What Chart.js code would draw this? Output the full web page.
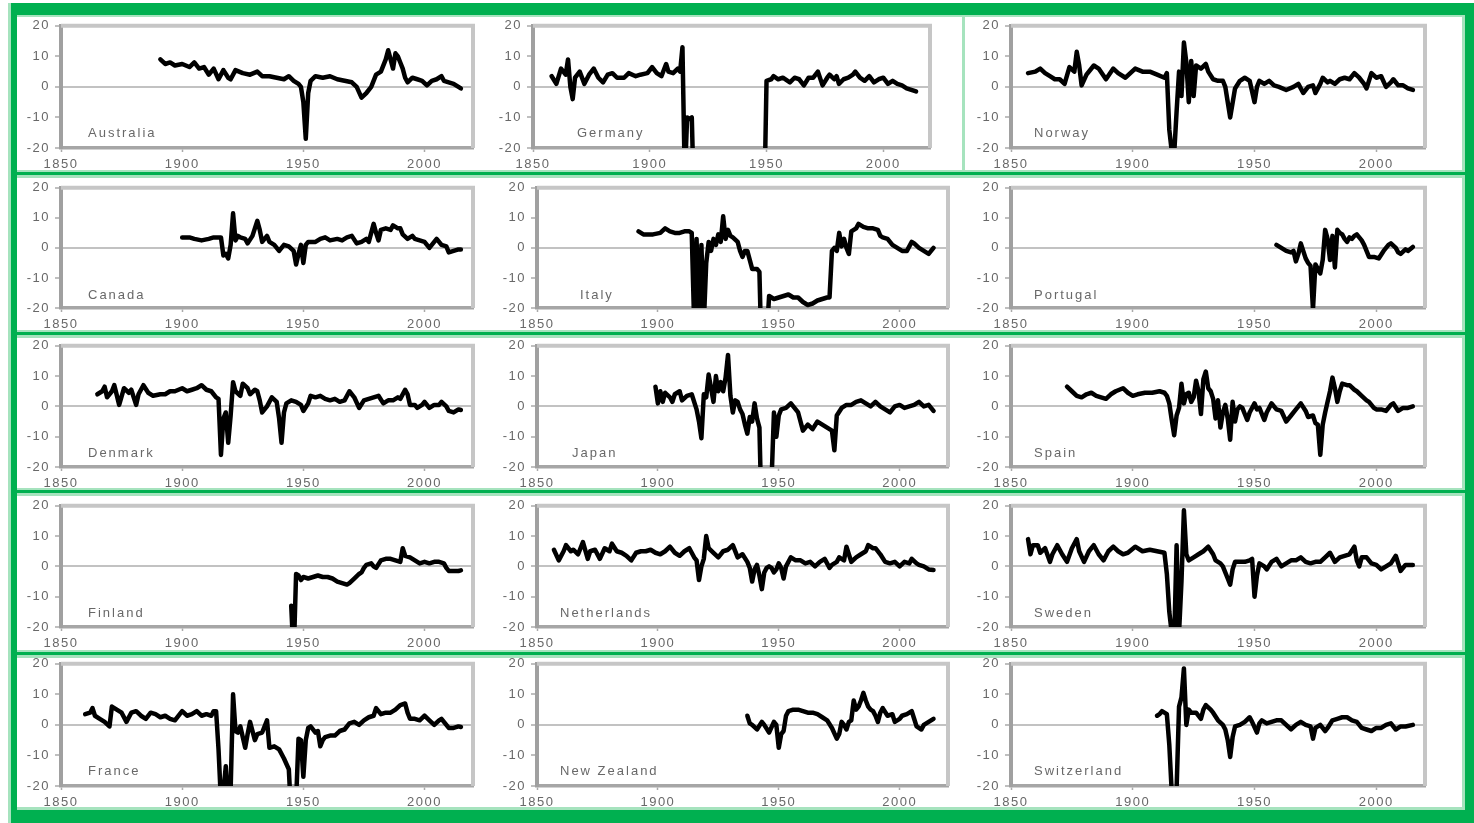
<!DOCTYPE html>
<html>
<head>
<meta charset="utf-8">
<script src="https://cdn.jsdelivr.net/npm/chart.js@4.4.0/dist/chart.umd.min.js"></script>
<style>
  html, body { margin: 0; padding: 0; background: #fff; }
  #page { position: relative; width: 1474px; height: 823px; overflow: hidden; }
  .band { position: absolute; background: #00b050; }
  .soft { position: absolute; background: #a6e3be; }
  canvas { position: absolute; }
</style>
</head>
<body>
<div id="page"></div>
<script>
// tick values shared by every panel
const xTicks = [1850, 1900, 1950, 2000];
const yTicks = [-20, -10, 0, 10, 20];

// [year, value] pairs
const australiaSeries = [[1891,9],[1893,7.5],[1895,8],[1897,7],[1900,7.5],[1903,6.5],[1905,8],[1907,6],[1909,6.5],[1911,4],[1913,6],[1915,2.5],[1917,5.5],[1919,3],[1920,2.5],[1922,5.5],[1925,4.5],[1928,4],[1931,5],[1933,3.5],[1936,3.5],[1939,3],[1942,2.5],[1944,3.5],[1946,2],[1948,1],[1949,0],[1950,-5],[1951,-17],[1952,-2],[1953,2],[1955,3.5],[1958,3],[1961,3.5],[1964,2.5],[1967,2],[1970,1.5],[1972,0],[1974,-3.5],[1976,-2],[1978,0],[1980,4],[1982,5],[1984,9],[1985,12],[1986,9],[1987,6],[1988,11],[1989,10],[1990,8],[1991,6],[1992,3],[1993,1.5],[1995,3],[1997,2.5],[1999,2],[2001,0.5],[2003,2],[2005,2.5],[2007,3.5],[2008,2],[2010,1.5],[2012,1],[2014,0],[2015,-0.5]];
const germanySeries = [[1858,3.5],[1860,1],[1862,6],[1864,4],[1865,9],[1866,0],[1867,-4],[1868,3],[1870,5],[1872,1],[1874,4],[1876,6],[1878,3],[1880,1.5],[1882,4],[1884,4.5],[1886,3],[1889,3],[1891,4.5],[1894,3.5],[1896,4],[1899,4.5],[1901,6.5],[1903,4.5],[1905,3.5],[1907,7.5],[1908,5],[1910,4.5],[1912,6],[1913,5],[1914,13],[1915,-30],[1916,-10],[1917,-10.5],[1918,-10],[1919,-40],[1930,null],[1949,-40],[1950,2],[1952,2.5],[1953,3.5],[1955,2.5],[1957,3],[1960,1.5],[1962,3],[1964,2.5],[1966,0.5],[1968,3],[1970,3],[1972,5],[1974,0.5],[1976,3],[1977,4],[1979,2.5],[1980,3.5],[1981,1],[1983,2.5],[1985,3],[1987,4],[1988,5],[1990,3],[1992,2],[1994,3.5],[1996,1.5],[1998,2.5],[2000,3],[2002,1],[2004,2],[2006,1],[2008,0.5],[2010,-0.5],[2012,-1],[2014,-1.5]];
const norwaySeries = [[1857,4.5],[1860,5],[1862,6],[1864,4.5],[1866,3.5],[1868,2.5],[1870,2.5],[1872,1],[1874,6.5],[1876,5],[1877,11.5],[1878,7],[1879,0.5],[1881,4],[1884,7],[1886,6],[1889,2.5],[1892,6],[1894,4.5],[1897,3],[1899,4.5],[1901,6],[1904,5],[1907,5],[1910,4],[1913,3],[1914,4.5],[1915,-14],[1916,-21],[1917,-22],[1918,-8],[1919,5],[1920,-3],[1921,14.5],[1922,8],[1923,-5],[1924,8.5],[1925,-3],[1926,7],[1928,6],[1930,7.5],[1931,5],[1933,2.5],[1935,2],[1937,2],[1938,0],[1940,-10],[1942,-0.5],[1944,2],[1946,3],[1948,2],[1950,-5],[1951,0],[1952,2],[1954,1],[1956,2],[1958,0.5],[1960,0],[1963,-1],[1966,0],[1968,1],[1970,-2],[1972,0],[1974,0.5],[1975,-2],[1977,1],[1978,3],[1980,1.5],[1981,2],[1983,1],[1985,2.5],[1987,3],[1989,2.5],[1991,4.5],[1993,3],[1995,1],[1996,-0.5],[1998,4.5],[2000,3],[2002,3.5],[2004,0],[2006,1.5],[2007,2.5],[2009,0.5],[2011,0.5],[2013,-0.5],[2015,-1]];
const canadaSeries = [[1900,3.5],[1903,3.5],[1905,3],[1908,2.5],[1911,3],[1913,3.5],[1916,3.5],[1917,-2.5],[1918,-2],[1919,-3.5],[1920,1],[1921,11.5],[1922,2.5],[1923,4],[1924,3.5],[1926,3],[1927,1.5],[1929,4],[1931,9],[1932,6],[1933,2],[1935,4],[1936,2],[1938,1],[1940,-1],[1942,1],[1944,0.5],[1946,-1],[1947,-5.5],[1948,-2],[1949,1],[1950,-5],[1951,1],[1952,2],[1955,2],[1957,3],[1959,3.5],[1961,2.5],[1964,3],[1966,2.5],[1968,3.5],[1970,4],[1972,1.5],[1974,2],[1976,3],[1977,2],[1979,8],[1980,5],[1981,2.5],[1982,6],[1984,6.5],[1986,6],[1987,7.5],[1989,6.5],[1990,6.5],[1991,4.5],[1993,3],[1995,4],[1996,3],[1998,2.5],[2000,2],[2002,0],[2004,2],[2005,3],[2007,1],[2009,0.5],[2010,-1.5],[2012,-1],[2014,-0.5],[2015,-0.5]];
const italySeries = [[1892,5.5],[1894,4.5],[1896,4.5],[1898,4.5],[1901,5],[1903,6.5],[1905,5.5],[1907,5],[1909,5],[1911,5.5],[1913,5.5],[1914,5],[1915,-25],[1916,3],[1917,-30],[1918,1],[1919,-25],[1920,-5],[1921,2],[1922,-1],[1923,3],[1924,1],[1925,4.5],[1926,2],[1927,10.5],[1928,3],[1929,6],[1930,4],[1931,3.5],[1933,2],[1934,-1],[1935,-3],[1936,-1],[1937,-1],[1938,-4],[1939,-7],[1941,-7],[1942,-8],[1943,-40],[1944,-60],[1945,-30],[1946,-16],[1948,-17],[1950,-16.5],[1952,-16],[1954,-15.5],[1956,-16.5],[1958,-16.5],[1960,-18],[1962,-19],[1964,-18.5],[1966,-17.5],[1968,-17],[1970,-16.5],[1971,-16.5],[1972,-1],[1973,0],[1974,-1],[1975,5],[1976,0.5],[1977,3],[1978,0],[1979,-2],[1980,5.5],[1982,6.5],[1983,8],[1985,7],[1987,6.5],[1989,6.5],[1991,6],[1992,4],[1993,3.5],[1995,3],[1997,1],[1999,0],[2001,-1],[2003,-1],[2005,2],[2006,1.5],[2008,0],[2010,-1],[2012,-2],[2014,0]];
const portugalSeries = [[1959,1],[1961,0],[1963,-1],[1965,-1.5],[1966,-1],[1967,-4.5],[1968,-2],[1969,1.5],[1970,-1],[1971,-3.5],[1972,-5],[1973,-6],[1974,-20.5],[1975,-5.5],[1976,-7],[1977,-8.5],[1978,-4],[1979,6],[1980,3],[1981,-4],[1982,4],[1983,-6.5],[1984,6],[1985,5],[1986,4.5],[1987,3],[1988,2],[1989,3.5],[1990,3],[1991,4],[1992,4.5],[1993,3.5],[1994,2.5],[1995,1],[1996,-1],[1997,-3],[1999,-3],[2001,-3.5],[2003,-1],[2004,0],[2005,1],[2006,1.5],[2008,0],[2009,-1.5],[2010,-2],[2012,-0.5],[2013,-1],[2015,0.3]];
const denmarkSeries = [[1865,4],[1867,5],[1868,6.5],[1869,3],[1871,5],[1872,7],[1874,0.5],[1876,6],[1878,4.5],[1879,5.5],[1881,0.5],[1882,4],[1884,7],[1886,4.5],[1888,3.5],[1891,4],[1893,4],[1895,5],[1897,5],[1900,6],[1902,5],[1904,5.5],[1906,6],[1908,7],[1910,5.5],[1912,5],[1914,3],[1915,2.5],[1916,-16],[1917,-4],[1918,-2],[1919,-12],[1920,-3],[1921,8],[1922,5],[1924,3.5],[1925,7.5],[1927,6],[1928,4],[1930,5.5],[1931,5],[1932,2],[1933,-2],[1935,0],[1937,3],[1939,1.5],[1940,-4],[1941,-12],[1942,-2],[1943,1],[1945,2],[1947,1.5],[1949,0.5],[1950,-1.5],[1952,1],[1953,3.5],[1955,3],[1957,3.5],[1959,2.5],[1961,2],[1963,2.5],[1965,1.5],[1967,2],[1969,5],[1971,3],[1973,-0.5],[1975,2],[1977,2.5],[1979,3],[1981,3.5],[1983,1],[1985,2],[1987,2],[1989,3],[1990,2.5],[1992,5.5],[1993,4],[1994,0.5],[1996,0.5],[1997,-0.5],[1999,0.5],[2000,1.5],[2002,-0.5],[2004,0.5],[2006,0.5],[2007,1.5],[2009,0],[2010,-1.5],[2012,-2],[2014,-1],[2015,-1.2]];
const japanSeries = [[1899,6.5],[1900,1],[1901,5],[1902,1.5],[1903,4.5],[1905,3],[1906,1.5],[1907,4],[1909,5],[1910,2],[1912,3.5],[1914,4],[1916,-1],[1917,-5],[1918,-10.5],[1919,4],[1920,3],[1921,10.5],[1922,6],[1923,1.5],[1924,10],[1925,5],[1926,8],[1927,5],[1928,9.5],[1929,17],[1930,3.5],[1931,-2],[1932,2],[1933,1.5],[1934,-1],[1935,-2.5],[1936,-6],[1937,-9],[1938,-3.5],[1939,-5],[1940,1],[1941,-4],[1942,-7],[1943,-40],[1944,-60],[1945,-60],[1946,-50],[1947,-25],[1948,-2],[1949,-10],[1950,-3],[1951,-1],[1953,-0.5],[1955,1],[1957,-1],[1958,-2],[1960,-8],[1962,-6],[1964,-7.5],[1966,-5],[1968,-6],[1970,-7],[1972,-8],[1973,-14.5],[1974,-3],[1976,-0.5],[1978,0.5],[1980,0.5],[1982,1.5],[1984,2],[1986,1],[1988,0],[1990,1.5],[1992,0],[1994,-1],[1996,-2],[1998,0],[2000,0.5],[2002,-0.5],[2004,0],[2006,0.5],[2008,1.5],[2010,0],[2012,0.5],[2014,-1.5]];
const spainSeries = [[1873,6.5],[1875,5],[1877,3.5],[1879,3],[1881,4],[1883,4.5],[1885,3.5],[1887,3],[1889,2.5],[1891,4],[1893,5],[1896,6],[1898,4.5],[1900,3.5],[1902,4],[1905,4.5],[1908,4.5],[1911,5],[1913,4.5],[1914,3.5],[1915,1],[1916,-4.5],[1917,-9.5],[1918,-3],[1919,-0.5],[1920,7.5],[1921,1],[1922,4],[1923,4.5],[1924,1.5],[1925,3],[1926,8.5],[1927,5],[1928,-2.5],[1929,9],[1930,11.5],[1931,6],[1932,5],[1933,2.5],[1934,-4],[1935,2],[1936,-7],[1937,-2],[1938,0.5],[1939,-4],[1940,-11],[1941,1.5],[1942,-5],[1943,-1],[1944,0],[1945,-0.5],[1946,-2.5],[1947,-4.5],[1948,-2],[1950,1],[1951,-1],[1952,-0.5],[1954,-4.5],[1955,-2],[1957,1],[1959,-1],[1961,-1.5],[1963,-5],[1965,-3],[1967,-1],[1969,1],[1971,-1.5],[1972,-3.5],[1974,-3],[1975,-5.5],[1976,-6],[1977,-16],[1978,-6],[1979,-2],[1980,1.5],[1981,5],[1982,9.5],[1983,6],[1984,1.5],[1985,5],[1986,7.5],[1988,7],[1989,7],[1991,5.5],[1992,5],[1994,3.5],[1996,2],[1997,1.5],[1999,-0.5],[2000,-1],[2002,-1],[2004,-1.5],[2006,0.5],[2007,1],[2009,-1.5],[2011,-0.5],[2013,-0.5],[2015,0]];
const finlandSeries = [[1945,-13],[1946,-30],[1947,-2.5],[1948,-3],[1949,-4.5],[1950,-3.5],[1952,-4],[1954,-3.5],[1956,-3],[1958,-3.5],[1960,-3.5],[1962,-4],[1964,-5],[1966,-5.5],[1968,-6],[1969,-5.5],[1971,-4],[1973,-2.5],[1974,-2],[1975,-0.5],[1976,0.5],[1978,1],[1979,0],[1980,-0.5],[1982,2],[1984,2.5],[1986,2.5],[1988,2],[1990,1.5],[1991,6],[1992,3.5],[1994,3],[1996,2],[1998,1],[2000,1.5],[2002,1],[2004,1.5],[2006,1.5],[2008,1],[2009,-0.5],[2010,-1.5],[2012,-1.5],[2014,-1.5],[2015,-1.3]];
const netherlandsSeries = [[1857,5.5],[1859,2],[1861,5],[1862,7],[1864,5],[1865,5.5],[1867,4],[1869,8],[1871,2.5],[1872,5],[1874,5.5],[1876,2.5],[1878,6],[1880,5],[1881,7.5],[1883,5],[1885,4.5],[1887,3.5],[1889,2],[1891,4.5],[1893,5],[1895,5],[1897,5.5],[1899,4.5],[1901,4],[1903,5],[1905,6.5],[1907,4.5],[1909,3.5],[1911,5],[1913,6],[1915,3],[1916,2],[1917,-4.5],[1918,0],[1919,2.5],[1920,10],[1921,6],[1923,4.5],[1925,3],[1927,5],[1929,5.5],[1931,7],[1933,3],[1935,4],[1937,1.5],[1938,-0.5],[1939,-5],[1940,-1],[1941,0.5],[1942,-3],[1943,-7.5],[1944,-2],[1945,-0.5],[1946,0],[1947,-0.5],[1948,-2],[1949,-1],[1950,1],[1951,-0.5],[1952,-4],[1953,0],[1955,3],[1957,2],[1959,2],[1961,1],[1963,1.5],[1965,0],[1967,1.5],[1969,2.5],[1971,-0.5],[1972,0.5],[1974,1.5],[1975,3],[1977,2],[1978,6.5],[1980,1.5],[1982,3],[1984,4],[1986,5],[1987,7],[1989,6],[1990,6],[1992,4],[1994,1.5],[1996,1],[1998,1.5],[2000,0],[2002,1.5],[2004,1],[2005,2.5],[2007,1],[2008,0.5],[2010,0],[2012,-1],[2014,-1.2]];
const swedenSeries = [[1857,9],[1858,4],[1859,7],[1861,7],[1862,4.5],[1864,6],[1866,1.5],[1867,4],[1869,7],[1871,4],[1873,1.5],[1875,6],[1877,9],[1878,5],[1880,1.5],[1882,5],[1884,7],[1886,4],[1888,2],[1890,5],[1892,6.5],[1894,5],[1896,4],[1898,4.5],[1901,6.5],[1904,5],[1907,5.5],[1910,5],[1913,4.5],[1914,-2.5],[1915,-15],[1916,-22],[1917,-25],[1918,7],[1919,-22],[1920,-5],[1921,18.5],[1922,4],[1923,2],[1925,3],[1927,4],[1929,5],[1931,6.5],[1933,4],[1934,2],[1936,1],[1937,0],[1939,-4],[1940,-6],[1941,-1],[1942,1.5],[1944,1.5],[1946,1.5],[1948,2],[1949,2.5],[1950,-10],[1951,-3],[1952,1],[1954,0],[1955,-1],[1957,1.5],[1959,2.5],[1961,0],[1963,1],[1965,2],[1967,2],[1969,3],[1971,1.5],[1973,1],[1975,1.5],[1977,1.5],[1979,3],[1981,4.5],[1983,1.5],[1985,3],[1987,3.5],[1989,4],[1991,6.5],[1992,2],[1993,0],[1994,3],[1996,3],[1998,1],[2000,0.5],[2002,-1],[2004,0],[2006,1],[2008,3.5],[2009,1],[2010,-1.5],[2012,0.5],[2014,0.5],[2015,0.5]];
const franceSeries = [[1860,3.5],[1862,4],[1863,5.5],[1864,3],[1866,2],[1868,1],[1870,-0.5],[1871,6],[1873,5],[1875,4],[1877,1],[1879,4],[1881,4.5],[1883,3],[1885,2],[1887,4],[1889,3.5],[1891,2.5],[1893,3],[1895,2],[1897,1.5],[1899,3.5],[1900,4.5],[1902,3],[1904,3.5],[1906,4.5],[1908,3],[1910,3.5],[1912,3],[1913,4.5],[1914,4.5],[1915,-8],[1916,-25],[1917,-22],[1918,-13.5],[1919,-25],[1920,-21],[1921,10],[1922,-2],[1923,-2.5],[1924,-0.5],[1926,-7.5],[1927,-3],[1928,1],[1930,-5],[1931,-3],[1933,-2.5],[1935,1.5],[1936,-7.5],[1938,-7],[1940,-8],[1942,-11],[1944,-14.5],[1945,-30],[1946,-40],[1947,-25],[1948,-4.5],[1949,-5],[1950,-17],[1951,-5],[1952,-1],[1953,-0.5],[1955,-2.5],[1956,-2],[1957,-7],[1958,-5],[1959,-4],[1961,-3.5],[1963,-3.5],[1965,-2],[1967,-1.5],[1969,0.5],[1971,1],[1973,0],[1975,1.5],[1977,2.5],[1979,3],[1980,5.5],[1982,3.5],[1984,4],[1986,4],[1988,5],[1990,6.5],[1992,7],[1993,4],[1994,2],[1996,2],[1998,1.5],[2000,3],[2002,1.5],[2004,0],[2006,1.5],[2007,2],[2009,0],[2010,-1],[2012,-1],[2014,-0.5],[2015,-0.7]];
const newZealandSeries = [[1937,3],[1938,0.5],[1939,0],[1941,-1.5],[1943,1],[1944,0],[1946,-2.5],[1948,1],[1949,0],[1950,-7.5],[1951,-3],[1952,-2],[1953,3],[1954,4.5],[1956,5],[1958,5],[1960,4.5],[1962,4],[1964,4],[1966,3.5],[1968,2.5],[1970,1.5],[1972,-1],[1974,-4.5],[1975,-3],[1976,1],[1977,0],[1978,-1.5],[1979,1],[1980,1.5],[1981,8],[1982,5],[1983,6],[1984,8],[1985,10.5],[1986,8],[1987,6],[1988,5],[1989,4.5],[1990,3],[1991,1],[1992,4],[1993,5.5],[1995,3],[1997,3.5],[1998,1],[2000,2],[2001,3],[2003,3.5],[2005,4.5],[2006,2],[2007,-0.5],[2009,-1.5],[2010,0],[2012,1],[2014,2]];
const switzerlandSeries = [[1910,3],[1911,3.5],[1912,4.5],[1913,4],[1914,3.5],[1915,-6.5],[1916,-22],[1917,-25],[1918,-21],[1919,6],[1920,9],[1921,18.5],[1922,0],[1923,5],[1924,4],[1926,4],[1928,2],[1929,5],[1930,6.5],[1932,5],[1933,4],[1935,1.5],[1937,0],[1938,-1.5],[1939,-5],[1940,-10.5],[1941,-4],[1942,-0.5],[1944,0],[1946,1],[1948,2.5],[1949,1],[1951,-2.5],[1952,0.5],[1953,1.5],[1955,0.5],[1957,1],[1959,1.5],[1961,1.5],[1963,0],[1965,-1.5],[1967,0],[1969,1],[1971,0],[1973,-0.5],[1974,-4.5],[1975,-1],[1977,0],[1979,-2],[1980,-1],[1982,1.5],[1984,2],[1986,2.5],[1988,2.5],[1990,1.5],[1992,1],[1994,-1],[1996,-1.5],[1998,-2],[2000,-1],[2002,-1],[2004,0],[2006,0.5],[2008,-1.5],[2010,-0.5],[2012,-0.5],[2015,0]];

// panels in reading order: name, series, column, row
const panels = [
  ['Australia', australiaSeries, 0, 0], ['Germany', germanySeries, 1, 0], ['Norway', norwaySeries, 2, 0],
  ['Canada', canadaSeries, 0, 1], ['Italy', italySeries, 1, 1], ['Portugal', portugalSeries, 2, 1],
  ['Denmark', denmarkSeries, 0, 2], ['Japan', japanSeries, 1, 2], ['Spain', spainSeries, 2, 2],
  ['Finland', finlandSeries, 0, 3], ['Netherlands', netherlandsSeries, 1, 3], ['Sweden', swedenSeries, 2, 3],
  ['France', franceSeries, 0, 4], ['New Zealand', newZealandSeries, 1, 4], ['Switzerland', switzerlandSeries, 2, 4]
];

// page layout (pixels)
const colBox = [[61, 473], [537, 948], [1011, 1425]];
const rowBox = [[23, 148], [185, 308], [343, 467], [503, 627], [661, 786]];
const labelShift = { Australia: 27, Canada: 27, Denmark: 27, Finland: 27, France: 27,
  Germany: 44, Italy: 43, Japan: 35, Netherlands: 23, 'New Zealand': 23,
  Norway: 23, Portugal: 23, Spain: 23, Sweden: 23, Switzerland: 23 };
const axisW = 50, padTop = 10, padRight = 6, axisH = 28;

const page = document.getElementById('page');

function rect(cls, x, y, w, h) {
  const d = document.createElement('div');
  d.className = cls;
  d.style.cssText = `left:${x}px;top:${y}px;width:${w}px;height:${h}px`;
  page.appendChild(d);
}

const fontFamily = '"Liberation Sans", Arial, sans-serif';
const tickFont = { family: fontFamily, size: 13 };
const textColor = '#686868';

const spacing = {
  id: 'spacing',
  beforeLayout(chart) { chart.ctx.letterSpacing = '1.5px'; },
  beforeDraw(chart) { chart.ctx.letterSpacing = '1.5px'; }
};

const frameAndName = {
  id: 'frameAndName',
  beforeDatasetsDraw(chart) {
    const { ctx, chartArea: a } = chart;
    ctx.save();
    ctx.strokeStyle = '#c6c6c6';
    ctx.lineWidth = 4;
    ctx.beginPath();
    ctx.moveTo(a.left, a.top);
    ctx.lineTo(a.right, a.top);
    ctx.lineTo(a.right, a.bottom);
    ctx.stroke();
    ctx.restore();
  },
  afterDraw(chart, args, opts) {
    const { ctx, chartArea: a } = chart;
    ctx.save();
    ctx.letterSpacing = '2px';
    ctx.font = `13px ${fontFamily}`;
    ctx.fillStyle = textColor;
    ctx.textBaseline = 'middle';
    ctx.textAlign = 'left';
    ctx.fillText(opts.name, a.left + opts.shift, a.top + 108);
    ctx.restore();
  }
};

panels.forEach(([name, series, col, row]) => {
  let [left, right] = colBox[col];
  if (name === 'Germany') { left = 533; right = 930; }
  const [top, bottom] = rowBox[row];

  const canvas = document.createElement('canvas');
  canvas.width = right - left + axisW + padRight;
  canvas.height = bottom - top + padTop + axisH;
  canvas.style.left = (left - axisW) + 'px';
  canvas.style.top = (top - padTop) + 'px';
  page.appendChild(canvas);

  new Chart(canvas, {
    type: 'line',
    data: {
      datasets: [{
        data: series.map(([x, y]) => ({ x, y })),
        borderColor: '#000',
        borderWidth: 4.5,
        borderJoinStyle: 'round',
        borderCapStyle: 'round',
        pointRadius: 0,
        tension: 0,
        spanGaps: false,
        clip: 0
      }]
    },
    options: {
      responsive: false,
      animation: false,
      events: [],
      devicePixelRatio: 1,
      layout: { padding: { top: padTop, right: padRight, left: 0, bottom: 0 } },
      plugins: {
        legend: { display: false },
        tooltip: { enabled: false },
        frameAndName: { name, shift: labelShift[name] }
      },
      scales: {
        x: {
          type: 'linear',
          min: 1850,
          max: 2020,
          afterBuildTicks: s => { s.ticks = xTicks.map(v => ({ value: v })); },
          afterFit: s => { s.height = axisH; },
          grid: { drawOnChartArea: false, tickLength: 4, tickColor: '#aaa', tickWidth: 1.5 },
          border: { color: '#a6a6a6', width: 3.5 },
          ticks: { font: tickFont, color: textColor, padding: 5, maxRotation: 0, autoSkip: false, callback: v => String(v) }
        },
        y: {
          min: -20,
          max: 20,
          afterBuildTicks: s => { s.ticks = yTicks.map(v => ({ value: v })); },
          afterFit: s => { s.width = axisW; },
          grid: {
            color: c => (c.tick && c.tick.value === 0 ? '#c2c2c2' : 'rgba(0,0,0,0)'),
            lineWidth: 2,
            tickLength: 6,
            tickColor: '#aaa',
            tickWidth: 1.5
          },
          border: { color: '#a0a0a0', width: 4 },
          ticks: { font: tickFont, color: textColor, padding: 5, callback: v => String(v) }
        }
      }
    },
    plugins: [spacing, frameAndName]
  });
});

// green frame around the grid
rect('soft', 8, 3, 3, 820);
rect('band', 11, 3, 6, 820);
rect('soft', 1462, 3, 3, 820);
rect('band', 1465, 3, 9, 820);
rect('band', 11, 3, 1463, 12);
rect('soft', 17, 15, 1445, 2);
rect('soft', 17, 807, 1445, 3);
rect('band', 11, 810, 1463, 13);
[172, 332, 490, 652].forEach(y => {
  rect('soft', 17, y - 2, 1445, 2);
  rect('band', 17, y, 1448, 3);
  rect('soft', 17, y + 3, 1445, 3);
});
rect('soft', 962, 17, 3, 153);
</script>
</body>
</html>
